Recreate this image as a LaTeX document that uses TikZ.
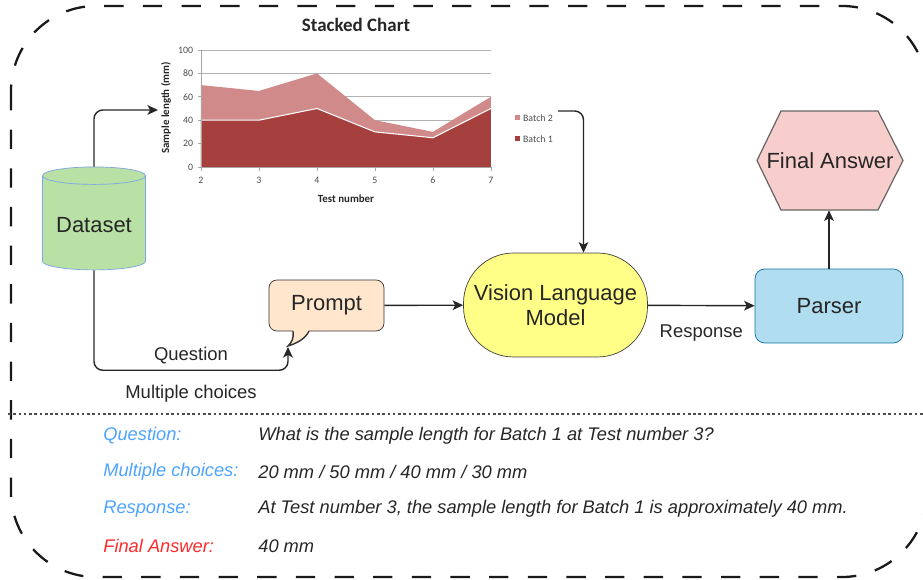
\documentclass[tikz,border=0pt]{standalone}
\usepackage{fontspec}
\setmainfont{Liberation Sans}
\newfontfamily\chartfont{Carlito}
\usetikzlibrary{shapes.geometric, arrows.meta, positioning, calc}

\definecolor{dsfill}{HTML}{B9E0A5}
\definecolor{dsline}{HTML}{7EA6E0}
\definecolor{promptfill}{HTML}{FFE6CC}
\definecolor{vlmfill}{HTML}{FFFF88}
\definecolor{parserfill}{HTML}{B1DDF0}
\definecolor{parserline}{HTML}{10739E}
\definecolor{fafill}{HTML}{F8CECC}
\definecolor{batchone}{HTML}{A5403F}
\definecolor{batchtwo}{HTML}{D08A89}
\definecolor{labelblue}{HTML}{4DA3FF}
\definecolor{labelred}{HTML}{FF2A2A}

\begin{document}
\begin{tikzpicture}[
    x=0.02cm, y=-0.02cm,
    every node/.style={text=black!85},
    box/.style={font=\fontsize{12.5}{14}\selectfont, align=center},
    conn/.style={draw=black!85, line width=0.8pt, rounded corners=5pt,
        -{Stealth[length=6pt, width=5.5pt, inset=1.5pt]}},
    edgelabel/.style={font=\fontsize{10.5}{12}\selectfont},
    chartlabel/.style={font=\chartfont\fontsize{5.6}{7}\selectfont, text=black!70},
    axistitle/.style={font=\chartfont\bfseries\fontsize{6.2}{7}\selectfont, text=black!85},
    rowlabel/.style={anchor=west, inner sep=0pt, font=\itshape\fontsize{10.4}{12}\selectfont},
    border/.style={draw=black!90, line width=1.3pt, dash pattern=on 11pt off 11pt,
        rounded corners=1.7cm},
]
  \useasboundingbox (0,0) rectangle (923,580);

  % outer frame and separator
  \draw[border] (11,6) rectangle (927,577);
  \draw[black!70, line width=0.6pt, dash pattern=on 1.5pt off 1.5pt] (8,414) -- (923,414);

  % stacked chart
  \node[font=\chartfont\bfseries\fontsize{10.8}{13}\selectfont] (title) at (356,25) {Stacked Chart};
  \begin{scope}[shift={(85,167)}, x=1.16cm, y=0.0234cm]
    \foreach \v in {20,40,...,100}
      \draw[black!30, line width=0.4pt] (2,\v) -- (7,\v);
    \fill[batchtwo] (2,0) -- (2,70) -- (3,65) -- (4,80) -- (5,40) -- (6,30) -- (7,60) -- (7,0) -- cycle;
    \fill[batchone] (2,0) -- (2,40) -- (3,40) -- (4,50) -- (5,30) -- (6,25) -- (7,50) -- (7,0) -- cycle;
    \draw[white, line width=0.6pt] (2,40) -- (3,40) -- (4,50) -- (5,30) -- (6,25) -- (7,50);
    \draw[black!35, line width=0.4pt] (2,100) -- (2,0) -- (7,0);
    \foreach \v in {0,20,...,100} {
      \draw[black!35, line width=0.4pt] (2,\v) -- ++(-0.05,0);
      \node[chartlabel, left, xshift=-1pt] at (2,\v) {\v};
    }
    \foreach \n in {2,...,7} {
      \draw[black!35, line width=0.4pt] (\n,0) -- ++(0,-3);
      \node[chartlabel, below, yshift=-2pt] at (\n,0) {\n};
    }
  \end{scope}
  \node[axistitle] at (346,199) {Test number};
  \node[axistitle, rotate=90] at (166,108) {Sample length (mm)};
  \fill[batchtwo] (514.5,115.5) rectangle (519.5,120.5);
  \fill[batchone] (514.5,136.5) rectangle (519.5,141.5);
  \node[chartlabel, right, inner sep=1pt] at (521,118) {Batch 2};
  \node[chartlabel, right, inner sep=1pt] at (521,139) {Batch 1};
  \coordinate (chartin) at (158,110);
  \coordinate (legout) at (558,111);

  % pipeline
  \node[box, cylinder, shape border rotate=90, aspect=0.2, draw=dsline, fill=dsfill,
      minimum width=2.06cm, minimum height=2.06cm] (ds) at (94,225) {Dataset};
  \node[box, draw=black!80, fill=promptfill, rounded corners=4.5pt,
      minimum width=2.3cm, minimum height=1.02cm] (prompt) at (326.5,305.5) {Prompt};
  \fill[promptfill] (293,329) -- (293,331) .. controls (294,338) and (292,342) .. (288,346)
      .. controls (298,343) and (306,338) .. (309,331) -- (309,329) -- cycle;
  \draw[black!80, line width=0.8pt] (293,331) .. controls (294,338) and (292,342) .. (288,346)
      .. controls (298,343) and (306,338) .. (309,331);
  \coordinate (tail) at (288,347);
  \node[box, draw=black!75, fill=vlmfill, rounded corners=1cm,
      minimum width=3.68cm, minimum height=2.08cm] (vlm) at (555.5,305) {Vision Language\\Model};
  \node[box, draw=parserline, fill=parserfill, rounded corners=5.5pt,
      minimum width=2.96cm, minimum height=1.48cm] (parser) at (829,306) {Parser};
  \draw[black!60, line width=0.7pt, fill=fafill]
      (781,111) -- (878,111) -- (903,160.5) -- (878,210) -- (781,210) -- (757,160.5) -- cycle;
  \node[box, minimum width=2.92cm, minimum height=1.98cm, inner sep=0pt] (fa) at (830,160.5) {Final Answer};

  \draw[conn] (ds.north) |- (chartin);
  \draw[conn] (ds.south) -- ++(0,100)
      -| node[pos=0.25, above, edgelabel] {Question}
         node[pos=0.25, below, yshift=-4.5pt, edgelabel] {Multiple choices} (tail);
  \draw[conn] (legout) -| ($(vlm.north)+(28,0)$);
  \draw[conn] (prompt) -- (vlm);
  \draw[conn] (vlm) -- node[below, yshift=-7pt, edgelabel] {Response} (parser);
  \draw[conn] (parser.north) -- (parser.north |- fa.south);

  % worked example
  \node[rowlabel, text=labelblue] at (103,436) {Question:};
  \node[rowlabel] at (258,436) {What is the sample length for Batch 1 at Test number 3?};
  \node[rowlabel, text=labelblue] at (103,472) {Multiple choices:};
  \node[rowlabel] at (258,472) {20 mm / 50 mm / 40 mm / 30 mm};
  \node[rowlabel, text=labelblue] at (103,509) {Response:};
  \node[rowlabel] at (258,509) {At Test number 3, the sample length for Batch 1 is approximately 40 mm.};
  \node[rowlabel, text=labelred] at (103,546) {Final Answer:};
  \node[rowlabel] at (258,546) {40 mm};
\end{tikzpicture}
\end{document}
